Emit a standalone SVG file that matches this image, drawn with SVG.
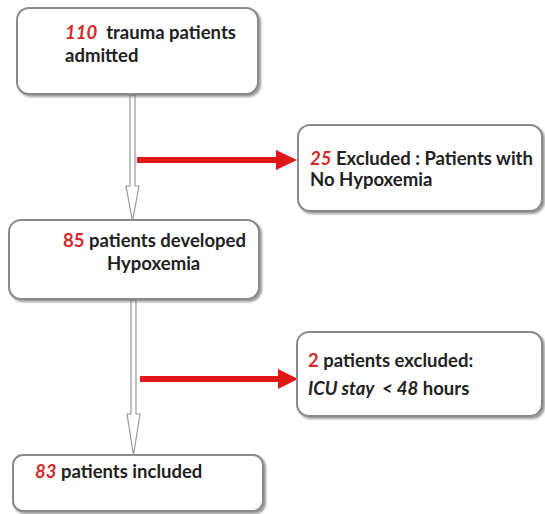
<svg xmlns="http://www.w3.org/2000/svg" width="545" height="514" viewBox="0 0 545 514">
<defs>
<filter id="sh" x="-5%" y="-5%" width="115%" height="120%">
<feDropShadow dx="2" dy="2" stdDeviation="1.2" flood-color="#555" flood-opacity="0.6"/>
</filter>
</defs>
<style>
.box{fill:#fff;stroke:#8a8a8a;stroke-width:2;filter:url(#sh)}
.t{font-family:Lato,"Liberation Sans",sans-serif;font-weight:bold;font-size:18.5px;fill:#222}
.n{fill:#d42a2a}
.hollow{fill:#fff;stroke:#999;stroke-width:1.2}
.redline{stroke:#e01818;stroke-width:6;fill:none}
.head{fill:#e01818}
</style>
<rect width="545" height="514" fill="#fff"/>
<g id="connectors">
<path class="hollow" d="M130,95 L135,95 L135,186 L139,186 L132.5,221 L126,186 L130,186 Z"/>
<path class="hollow" d="M131,300 L136,300 L136,414 L140,414 L133.5,455 L127,414 L131,414 Z"/>
<line class="redline" x1="137" y1="160" x2="282" y2="160"/>
<path class="head" d="M276,150 L297,160 L276,170 Z"/>
<line class="redline" x1="140" y1="379" x2="283" y2="379"/>
<path class="head" d="M278,369 L298,379 L278,389 Z"/>
</g>
<g id="n1">
<rect class="box" x="17" y="8" width="241" height="86" rx="12"/>
<text class="t" x="65" y="39"><tspan class="n" font-style="italic">110</tspan>&#160; trauma patients</text>
<text class="t" x="65" y="62">admitted</text>
</g>
<g id="n2">
<rect class="box" x="298" y="125" width="244" height="86" rx="12"/>
<text class="t" x="310" y="165"><tspan class="n" font-style="italic">25</tspan> Excluded : Patients with</text>
<text class="t" x="310" y="186">No Hypoxemia</text>
</g>
<g id="n3">
<rect class="box" x="9" y="220" width="250" height="79" rx="12"/>
<text class="t" x="63" y="247"><tspan class="n">85</tspan> patients developed</text>
<text class="t" x="107" y="270">Hypoxemia</text>
</g>
<g id="n4">
<rect class="box" x="297" y="332" width="245" height="84" rx="12"/>
<text class="t" x="308" y="367"><tspan class="n">2</tspan> patients excluded:</text>
<text class="t" x="308" y="395"><tspan font-style="italic">ICU stay&#160; &lt; 48</tspan> hours</text>
</g>
<g id="n5">
<rect class="box" x="13" y="455" width="250" height="56" rx="10"/>
<text class="t" x="35" y="478"><tspan class="n" font-style="italic">83</tspan> patients included</text>
</g>
</svg>
